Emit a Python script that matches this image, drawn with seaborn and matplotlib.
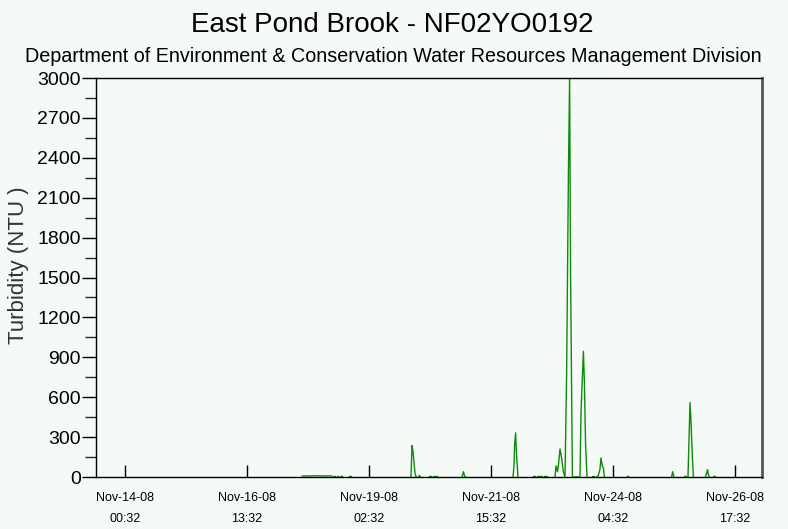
import numpy as np
import pandas as pd
import matplotlib
matplotlib.use('Agg')
import matplotlib.pyplot as plt
from matplotlib.ticker import MultipleLocator
import seaborn as sns

START = pd.Timestamp('2008-11-14 00:32')

# hours after START; NaN = gap in the record (line is broken there)
nan = np.nan
hours = [
    88.5, 92, 96, 100, 103.5, nan,
    104.2, 105.2, nan, 105.8, 106.7, nan, 107.5, 108.5, nan, 112, 113, nan,
    143, 143.5, 144, 144.5, 145, 145.6, nan,
    146.75, 147.25, 147.75, nan,
    152, 153, nan, 154, 156, nan,
    168.5, 169.2, 169.8, 170.5, nan,
    194, 194.5, 194.8, 195.3, 195.8, 196.5, nan,
    203.8, 205, nan, 205.8, 206.8, nan, 207.5, 208.5, nan, 209.3, 211, nan,
    215, 215.5, 216.2, 216.8, 217.5, 218.3, 219.2, 220, 220.8, 221.7, 222.3,
    222.8, 223.7, 225, 227.5, 228, 229.2, 229.7, 230.3, 231, nan,
    233.7, 234.7, nan,
    235.8, 236.7, 237.5, 238, 238.7, 239.2, 239.7, nan,
    251, 251.5, 252, nan,
    273.3, 273.8, 274.5, nan,
    279.5, 280.5, nan,
    281.5, 282, 282.5, 283, 283.7, 284.2, nan,
    290.2, 290.8, 291.3, 291.8, 292.2, nan,
    294, 295,
]
ntu = [
    8, 8, 9, 8, 8, nan,
    5, 5, nan, 5, 5, nan, 5, 5, nan, 5, 5, nan,
    0, 236, 190, 110, 30, 0, nan,
    0, 12, 0, nan,
    5, 5, nan, 5, 5, nan,
    0, 40, 8, 0, nan,
    0, 83, 241, 332, 158, 0, nan,
    5, 5, nan, 5, 5, nan, 5, 5, nan, 5, 5, nan,
    0, 83, 40, 100, 211, 143, 38, 0, 760, 2262, 3000,
    1508, 0, 0, 0, 482, 945, 709, 241, 0, nan,
    8, 8, nan,
    0, 12, 60, 143, 78, 70, 0, nan,
    0, 6, 0, nan,
    0, 40, 0, nan,
    5, 5, nan,
    0, 279, 560, 417, 143, 0, nan,
    0, 30, 55, 10, 0, nan,
    5, 5,
]

tick_hours = [0, 61, 122, 183, 244, 305]
tick_labels = ['Nov-14-08\n00:32', 'Nov-16-08\n13:32', 'Nov-19-08\n02:32',
               'Nov-21-08\n15:32', 'Nov-24-08\n04:32', 'Nov-26-08\n17:32']

df = pd.DataFrame({'hours': hours, 'ntu': ntu})
df['seg'] = df['ntu'].isna().cumsum()
df = df.dropna()
df['time'] = START + pd.to_timedelta(df['hours'], unit='h')

BG = '#f5faf6'
sns.set_style('ticks')
plt.rcParams['font.family'] = ['Liberation Sans', 'DejaVu Sans']

fig = plt.figure(figsize=(7.88, 5.29), dpi=100, facecolor=BG)
ax = fig.add_axes([96 / 788, 52 / 529, 666 / 788, 399 / 529])
ax.set_facecolor(BG)

sns.lineplot(data=df, x='time', y='ntu', units='seg', estimator=None,
             color='#0c8a0c', lw=1.0, ax=ax, legend=False)

ax.set_ylim(0, 3000)
ax.set_xlim(START + pd.Timedelta(hours=-14.5), START + pd.Timedelta(hours=318.5))
ax.yaxis.set_major_locator(MultipleLocator(300))
ax.yaxis.set_minor_locator(MultipleLocator(150))
ax.set_xticks([START + pd.Timedelta(hours=h) for h in tick_hours])
ax.set_xticklabels(tick_labels, linespacing=2.0)

ax.tick_params(axis='y', direction='out', length=10, width=1, labelsize=14,
               pad=1, colors='black')
ax.tick_params(axis='y', which='minor', direction='out', length=8, width=1)
ax.tick_params(axis='x', direction='in', length=9, width=1, labelsize=9,
               pad=11, colors='black')

for side in ['left', 'top', 'bottom']:
    ax.spines[side].set_color('black')
    ax.spines[side].set_linewidth(1)
ax.spines['right'].set_color('#555555')
ax.spines['right'].set_linewidth(2)

ax.set_xlabel('')
ax.set_ylabel('Turbidity (NTU )', fontsize=16, color='#333333')
ax.yaxis.set_label_coords(-0.1, 0.53)

fig.text(0.498, 0.953, 'East Pond Brook - NF02YO0192', ha='center', va='center',
         fontsize=20, color='black')
fig.text(0.499, 0.893, 'Department of Environment & Conservation Water Resources Management Division',
         ha='center', va='center', fontsize=14.2, color='black')

fig.savefig('out.png', dpi=100, facecolor=BG)
